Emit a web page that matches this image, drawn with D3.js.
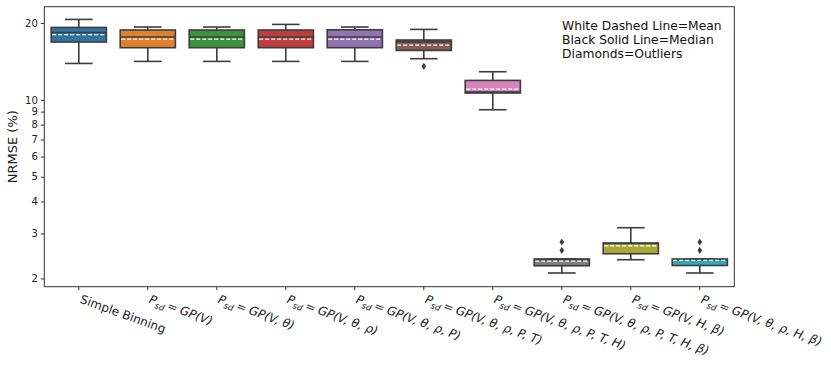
<!DOCTYPE html>
<html>
<head>
<meta charset="utf-8">
<script src="https://cdn.jsdelivr.net/npm/d3@7"></script>
<style>
  body { margin: 0; background: #fff; }
  svg { display: block; font-family: "DejaVu Sans", sans-serif; }
</style>
</head>
<body>
<svg id="chart" width="831" height="367"></svg>
<script>
// ---- data ----
const categories = ["Simple Binning", "GP1", "GP2", "GP3", "GP4", "GP5", "GP6", "GP7", "GP8", "GP9"];
// arguments of GP(...) for each label, null = plain text label
const labelArgs = [
  null,
  ["V"],
  ["V", "θ"],
  ["V", "θ", "ρ"],
  ["V", "θ", "ρ", "P"],
  ["V", "θ", "ρ", "P", "T"],
  ["V", "θ", "ρ", "P", "T", "H"],
  ["V", "θ", "ρ", "P", "T", "H", "β"],
  ["V", "H", "β"],
  ["V", "θ", "ρ", "H", "β"]
];
const whiskerLow  = [13.89, 14.15, 14.15, 14.15, 14.15, 14.50, 9.15, 2.10, 2.367, 2.10];
const q1          = [16.85, 16.01, 16.01, 16.01, 16.01, 15.62, 10.64, 2.242, 2.498, 2.247];
const medians     = [18.37, 17.63, 17.63, 17.63, 17.63, 16.89, 10.73, 2.37, 2.74, 2.37];
const q3          = [19.22, 18.78, 18.78, 18.78, 18.82, 17.16, 11.92, 2.382, 2.752, 2.382];
const whiskerHigh = [20.66, 19.29, 19.29, 19.75, 19.29, 18.88, 12.89, 2.382, 3.159, 2.382];
const means       = [18.00, 17.31, 17.31, 17.31, 17.31, 16.40, 11.03, 2.339, 2.685, 2.352];
const outliers    = [[], [], [], [], [], [13.53], [], [2.575, 2.777], [], [2.575, 2.777]];
const yTicks = [2, 3, 4, 5, 6, 7, 8, 9, 10, 20];
const legendLines = ["White Dashed Line=Mean", "Black Solid Line=Median", "Diamonds=Outliers"];

const colors = ["#3274a1", "#e1812c", "#3a923a", "#c03d3e", "#9372b2",
                "#845b53", "#d684bd", "#7f7f7f", "#a9aa35", "#2eabb8"];
const lineGray = "#3d3d3d";

// ---- layout ----
const plot = { left: 44.3, right: 734.3, top: 6.7, bottom: 286.7 };
const svg = d3.select("#chart");

const x = d3.scaleBand()
  .domain(categories)
  .range([plot.left, plot.right])
  .paddingInner(0.2)
  .paddingOuter(0.1);

const y = d3.scaleLog()
  .domain([1.856, 23.17])
  .range([plot.bottom, plot.top]);

const boxW = x.bandwidth();
const capW = boxW / 2;

// ---- boxes ----
const rows = categories.map((c, i) => ({
  c, i,
  lo: whiskerLow[i], q1: q1[i], med: medians[i], q3: q3[i],
  hi: whiskerHigh[i], mean: means[i], out: outliers[i]
}));

const g = svg.append("g");

rows.forEach(d => {
  const x0 = x(d.c);
  const xc = x0 + boxW / 2;
  const bg = g.append("g");

  // whiskers
  bg.append("line")
    .attr("x1", xc).attr("x2", xc)
    .attr("y1", y(d.q3)).attr("y2", y(d.hi))
    .attr("stroke", lineGray).attr("stroke-width", 1.6);
  bg.append("line")
    .attr("x1", xc).attr("x2", xc)
    .attr("y1", y(d.q1)).attr("y2", y(d.lo))
    .attr("stroke", lineGray).attr("stroke-width", 1.6);
  // caps
  [d.hi, d.lo].forEach(v => {
    bg.append("line")
      .attr("x1", xc - capW / 2).attr("x2", xc + capW / 2)
      .attr("y1", y(v)).attr("y2", y(v))
      .attr("stroke", lineGray).attr("stroke-width", 1.6);
  });

  // box
  bg.append("rect")
    .attr("x", x0).attr("width", boxW)
    .attr("y", y(d.q3)).attr("height", y(d.q1) - y(d.q3))
    .attr("fill", colors[d.i])
    .attr("stroke", lineGray).attr("stroke-width", 1.6);

  // median
  bg.append("line")
    .attr("x1", x0).attr("x2", x0 + boxW)
    .attr("y1", y(d.med)).attr("y2", y(d.med))
    .attr("stroke", lineGray).attr("stroke-width", 1.6);

  // mean (white dashed)
  bg.append("line")
    .attr("x1", x0 + 1).attr("x2", x0 + boxW - 1)
    .attr("y1", y(d.mean)).attr("y2", y(d.mean))
    .attr("stroke", "#fff").attr("stroke-width", 1.3)
    .attr("stroke-dasharray", "4,2");

  // outliers, thin diamonds
  d.out.forEach(v => {
    const cy = y(v);
    bg.append("path")
      .attr("d", `M${xc},${cy - 3.6}L${xc + 2.3},${cy}L${xc},${cy + 3.6}L${xc - 2.3},${cy}Z`)
      .attr("fill", lineGray);
  });
});

// ---- frame ----
svg.append("rect")
  .attr("x", plot.left).attr("y", plot.top)
  .attr("width", plot.right - plot.left).attr("height", plot.bottom - plot.top)
  .attr("fill", "none").attr("stroke", "#333").attr("stroke-width", 1);

// ---- y axis ----
const yAxis = svg.append("g")
  .attr("transform", `translate(${plot.left},0)`)
  .call(d3.axisLeft(y).tickValues(yTicks).tickFormat(d3.format("d")).tickSize(3.5).tickPadding(3));
yAxis.select(".domain").remove();
yAxis.selectAll("line").attr("stroke", "#333");
yAxis.selectAll("text")
  .attr("font-size", 10)
  .attr("font-family", "DejaVu Sans")
  .attr("fill", "#222");

svg.append("text")
  .attr("transform", `translate(17,${(plot.top + plot.bottom) / 2}) rotate(-90)`)
  .attr("text-anchor", "middle")
  .attr("font-size", 13)
  .attr("fill", "#222")
  .text("NRMSE (%)");

// ---- x axis ----
const xAxis = svg.append("g")
  .attr("transform", `translate(0,${plot.bottom})`)
  .call(d3.axisBottom(x).tickSize(3.5).tickFormat(""));
xAxis.select(".domain").remove();
xAxis.selectAll("line").attr("stroke", "#333");

// rotated labels, P_sd = GP(...) as italic math
categories.forEach((c, i) => {
  const xc = x(c) + boxW / 2;
  const t = svg.append("text")
    .attr("transform", `translate(${xc + 3.5},294) rotate(20)`)
    .attr("x", 0).attr("y", 9)
    .attr("font-size", 12)
    .attr("fill", "#222");
  const args = labelArgs[i];
  if (!args) {
    t.text(c);
    return;
  }
  t.append("tspan").attr("font-style", "italic").text("P");
  t.append("tspan").attr("font-style", "italic").attr("font-size", 8.5).attr("dy", 3).text("sd");
  t.append("tspan").attr("dy", -3).attr("dx", 2.5).text("=");
  t.append("tspan").attr("font-style", "italic").attr("dx", 3).text("GP(" + args.join(", ") + ")");
});

// ---- notes ----
svg.append("g")
  .selectAll("text")
  .data(legendLines)
  .join("text")
  .attr("x", 562)
  .attr("y", (d, i) => 29.5 + i * 14)
  .attr("font-size", 12.3)
  .attr("fill", "#111")
  .text(d => d);
</script>
</body>
</html>
